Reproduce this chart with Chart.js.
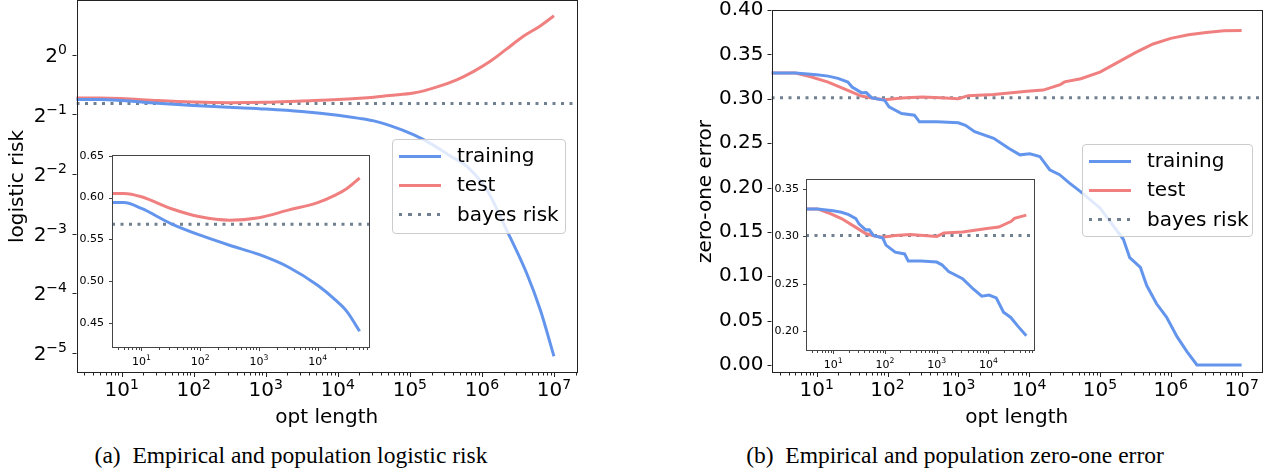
<!DOCTYPE html>
<html lang="en">
<head>
<meta charset="UTF-8">
<title>Logistic risk and zero-one error against opt length</title>
<script src="https://cdn.jsdelivr.net/npm/chart.js"></script>
<style>
    body {
        margin: 0;
        width: 1267px;
        height: 476px;
        position: relative;
        overflow: hidden;
        background: #fff;
        font-family: "DejaVu Sans", sans-serif;
    }
    canvas { position: absolute; }
    .legend {
        position: absolute;
        box-sizing: border-box;
        background: rgba(255, 255, 255, 0.8);
        border: 1px solid #cccccc;
        border-radius: 4px;
    }
    .legend .handle { position: absolute; left: 6px; width: 42px; height: 3px; }
    .legend .text { position: absolute; left: 64px; font-size: 20px; line-height: 24px; color: #000; white-space: nowrap; }
    .caption {
        position: absolute;
        top: 444px;
        font-family: "Liberation Serif", serif;
        font-size: 23.5px;
        line-height: 23.5px;
        white-space: nowrap;
        transform: translateX(-50%);
    }
</style>
</head>
<body>
    <canvas id="riskChart" width="600" height="455" style="left:0px; top:-15px"></canvas>
    <canvas id="riskInset" width="330" height="235" style="left:60px; top:140px"></canvas>
    <div class="legend" id="riskLegend" style="left:392px; top:139px; width:174px; height:95px"></div>

    <canvas id="errChart" width="627" height="450" style="left:640px; top:-10px"></canvas>
    <canvas id="errInset" width="290" height="215" style="left:760px; top:164px"></canvas>
    <div class="legend" id="errLegend" style="left:1082px; top:144px; width:171px; height:93px"></div>

    <div class="caption" style="left:291px">(a)&nbsp; Empirical and population logistic risk</div>
    <div class="caption" style="left:955px">(b)&nbsp; Empirical and population zero-one error</div>

    <script>
        // (a) logistic risk
        const riskTrainSteps = [2.3, 5, 10, 31.6, 100, 316, 1000, 3160, 1e4, 2e4, 3.16e4, 5.2e4,
                                1.12e5, 2.09e5, 3.55e5, 6.17e5, 1.17e6, 2.19e6, 4.17e6, 6.46e6, 1e7];
        const riskTrain = [0.594, 0.594, 0.587, 0.569, 0.555, 0.543, 0.532, 0.517, 0.495, 0.4775, 0.4636, 0.44,
                           0.395, 0.351, 0.31, 0.273, 0.208, 0.131, 0.079, 0.0515, 0.030];
        const riskTestSteps = [2.3, 5, 10, 31.6, 100, 316, 1000, 3160, 1e4, 2e4, 3.16e4, 5.2e4,
                               1.12e5, 2.34e5, 4.47e5, 7.6e5, 1.29e6, 2.19e6, 3.72e6, 6.46e6, 1e7];
        const riskTest = [0.605, 0.605, 0.601, 0.587, 0.577, 0.573, 0.576, 0.585, 0.594, 0.603, 0.611, 0.6235,
                          0.641, 0.687, 0.748, 0.823, 0.925, 1.068, 1.237, 1.40, 1.574];
        const riskBayes = 0.568;
        const riskTicks = [1 / 32, 1 / 16, 1 / 8, 1 / 4, 1 / 2, 1];
        const riskInsetTicks = [0.45, 0.50, 0.55, 0.60, 0.65];

        // (b) zero-one error
        const errTrainSteps = [2.3, 5, 10, 14.5, 20, 27.5, 31.6, 42.7, 50, 60, 91, 105, 158, 240, 282, 500,
                               1000, 1260, 1700, 3160, 5130, 7410, 10230, 14130, 19500, 26900, 37150, 53700, 72400,
                               1e5, 1.38e5, 2.14e5, 2.63e5, 3.72e5, 4.57e5, 6.3e5, 8.7e5, 1.23e6, 1.7e6, 2.34e6, 1e7];
        const errTrain = [0.329, 0.329, 0.327, 0.3255, 0.323, 0.3188, 0.3132, 0.3069, 0.307, 0.301, 0.2983, 0.2908,
                          0.2834, 0.2815, 0.274, 0.274, 0.2729, 0.270, 0.2629, 0.2554, 0.2442, 0.2368, 0.238, 0.235,
                          0.220, 0.2144, 0.205, 0.195, 0.1864, 0.177, 0.162, 0.1417, 0.121, 0.110, 0.0895, 0.069,
                          0.054, 0.0317, 0.0149, 0.0, 0.0];
        const errTestSteps = [2.3, 5, 8, 14.5, 27.5, 42.7, 63, 91, 158, 310, 560, 1000, 1380, 3160, 9330, 15800,
                              27500, 31600, 53700, 1e5, 1.78e5, 3.16e5, 5.62e5, 1e6, 1.78e6, 3.16e6, 5.62e6, 1e7];
        const errTest = [0.329, 0.329, 0.325, 0.3188, 0.3095, 0.303, 0.3005, 0.299, 0.3009, 0.302, 0.301, 0.300,
                         0.3035, 0.3047, 0.3084, 0.3098, 0.316, 0.319, 0.3225, 0.330, 0.341, 0.352, 0.3617, 0.368,
                         0.372, 0.3747, 0.3766, 0.377];
        const errBayes = 0.301;
        const errTicks = [0, 0.05, 0.10, 0.15, 0.20, 0.25, 0.30, 0.35, 0.40];
        const errInsetTicks = [0.20, 0.25, 0.30, 0.35];

        const optTicks = [10, 100, 1000, 1e4, 1e5, 1e6, 1e7];
        const insetOptTicks = [10, 100, 1000, 1e4];
        const insetEnd = 5.4e4;

        const BLUE = '#6495ed', RED = '#f08080', SLATE = '#708090';

        const expText = n => (n < 0 ? '\u2212' + (-n) : String(n));

        // "base^exp" label: base at full size, exponent smaller and raised
        function drawPower(ctx, base, exp, x, y, s, align) {
            ctx.font = s.size + 'px "DejaVu Sans"';
            const wb = ctx.measureText(base).width;
            ctx.font = s.sup + 'px "DejaVu Sans"';
            const we = ctx.measureText(exp).width;
            const left = align === 'center' ? x - (wb + we) / 2 : x - wb - we;
            ctx.font = s.size + 'px "DejaVu Sans"';
            ctx.fillText(base, left, y);
            ctx.font = s.sup + 'px "DejaVu Sans"';
            ctx.fillText(exp, left + wb, y - s.raise);
        }

        // frame around the plot area, outward ticks (minor ones on the log x axis), power-of labels
        const framePlugin = {
            id: 'frame',
            beforeDraw(chart, args, opts) {
                if (!opts.fill) return;
                const a = chart.chartArea;
                chart.ctx.save();
                chart.ctx.fillStyle = '#fff';
                chart.ctx.fillRect(a.left, a.top, a.right - a.left, a.bottom - a.top);
                chart.ctx.restore();
            },
            afterDraw(chart, args, opts) {
                const ctx = chart.ctx, a = chart.chartArea;
                const xs = chart.scales.x, ys = chart.scales.y;
                ctx.save();
                ctx.strokeStyle = opts.color;
                ctx.lineWidth = 1;
                ctx.strokeRect(Math.round(a.left) + 0.5, Math.round(a.top) + 0.5,
                               Math.round(a.right - a.left) - 1, Math.round(a.bottom - a.top) - 1);
                ctx.beginPath();
                for (let e = 0; e <= 8; e++) {
                    for (let d = 1; d <= 9; d++) {
                        const v = d * Math.pow(10, e);
                        if (v <= xs.min || v >= xs.max) continue;
                        const px = Math.round(xs.getPixelForValue(v)) + 0.5;
                        ctx.moveTo(px, a.bottom);
                        ctx.lineTo(px, a.bottom + (d === 1 ? opts.major : opts.minor));
                    }
                }
                ys.ticks.forEach(t => {
                    const py = Math.round(ys.getPixelForValue(t.value)) + 0.5;
                    ctx.moveTo(a.left, py);
                    ctx.lineTo(a.left - opts.major, py);
                });
                ctx.stroke();

                ctx.fillStyle = '#000';
                ctx.textBaseline = 'alphabetic';
                ctx.textAlign = 'left';
                const xp = opts.xPow;
                xs.ticks.forEach(t => {
                    drawPower(ctx, '10', expText(Math.round(Math.log10(t.value))),
                              xs.getPixelForValue(t.value), a.bottom + xp.offset, xp, 'center');
                });
                const yp = opts.yPow;
                if (yp.size) {
                    ys.ticks.forEach(t => {
                        drawPower(ctx, '2', expText(Math.round(Math.log2(t.value))),
                                  a.left - yp.pad, ys.getPixelForValue(t.value) + yp.size * 0.3645, yp, 'right');
                    });
                }
                ctx.restore();
            }
        };

        function makeChart(id, p) {
            const font = { family: 'DejaVu Sans', size: p.fontSize };
            const limit = p.inset ? insetEnd : Infinity;
            const datasets = p.series.map(s => ({
                label: s.label,
                data: s.x.map((x, i) => ({ x: x, y: s.y[i] })).filter(pt => pt.x <= limit),
                borderColor: s.color,
                borderWidth: 3,
                borderDash: [],
                pointRadius: 0,
                fill: false,
                tension: 0,
                cubicInterpolationMode: p.smooth ? 'monotone' : 'default'
            }));
            datasets.push({
                label: 'bayes risk',
                data: [{ x: p.xMin, y: p.bayes }, { x: p.xMax, y: p.bayes }],
                borderColor: SLATE,
                borderWidth: 3,
                borderDash: [3, 5.5],
                pointRadius: 0,
                fill: false
            });
            const xPow = p.inset ? { size: 11, sup: 7.7, raise: 4.5, offset: 16.7 }
                                 : { size: 20, sup: 14, raise: 7.5, offset: 23 };
            const yPow = p.yPower ? { size: 20, sup: 14, raise: 8, pad: 9.5 } : {};
            return new Chart(document.getElementById(id), {
                type: 'line',
                data: { datasets: datasets },
                plugins: [framePlugin],
                options: {
                    responsive: false,
                    animation: false,
                    layout: { padding: p.padding },
                    plugins: {
                        legend: { display: false },
                        tooltip: { enabled: false },
                        frame: {
                            color: p.inset ? '#444' : '#222', major: p.inset ? 3 : 4, minor: p.inset ? 2 : 2.5,
                            fill: p.inset, xPow: xPow, yPow: yPow
                        }
                    },
                    scales: {
                        x: {
                            type: 'logarithmic',
                            min: p.xMin,
                            max: p.xMax,
                            afterBuildTicks: s => { s.ticks = p.xTicks.map(v => ({ value: v })); },
                            afterFit: s => { s.height = p.xHeight; },
                            grid: { display: false, drawTicks: false },
                            border: { display: false },
                            ticks: { display: false },
                            title: {
                                display: !!p.xTitle, text: p.xTitle, color: '#000',
                                font: { family: 'DejaVu Sans', size: 20 }, padding: { top: 0, bottom: 10 }
                            }
                        },
                        y: {
                            type: p.yType,
                            min: p.yMin,
                            max: p.yMax,
                            afterBuildTicks: s => { s.ticks = p.yTicks.map(v => ({ value: v })); },
                            afterFit: s => { s.width = p.yWidth; },
                            grid: { display: false, drawTicks: false },
                            border: { display: false },
                            ticks: {
                                display: !p.yPower, padding: p.yPad, color: '#000', font: font,
                                callback: v => v.toFixed(2)
                            },
                            title: {
                                display: !!p.yTitle, text: p.yTitle, color: '#000',
                                font: { family: 'DejaVu Sans', size: 20 }, padding: { top: p.yTitlePad, bottom: 0 }
                            }
                        }
                    }
                }
            });
        }

        function makeLegend(chart, id) {
            const box = document.getElementById(id);
            chart.data.datasets.forEach((ds, i) => {
                const top = 16 + i * 29.3;
                const handle = document.createElement('div');
                handle.className = 'handle';
                handle.style.top = (top - 1.5) + 'px';
                handle.style.background = ds.borderDash.length
                    ? 'repeating-linear-gradient(to right, ' + ds.borderColor + ' 0 3px, transparent 3px 9.5px)'
                    : ds.borderColor;
                const text = document.createElement('div');
                text.className = 'text';
                text.style.top = (top - 13) + 'px';
                text.textContent = ds.label;
                box.appendChild(handle);
                box.appendChild(text);
            });
        }

        const riskSeries = [
            { label: 'training', x: riskTrainSteps, y: riskTrain, color: BLUE },
            { label: 'test', x: riskTestSteps, y: riskTest, color: RED }
        ];
        const errSeries = [
            { label: 'training', x: errTrainSteps, y: errTrain, color: BLUE },
            { label: 'test', x: errTestSteps, y: errTest, color: RED }
        ];

        const riskChart = makeChart('riskChart', {
            series: riskSeries, bayes: riskBayes, smooth: true, inset: false, fontSize: 20,
            padding: { top: 15, right: 23, left: 0, bottom: 0 },
            xMin: 2.36, xMax: 2.09e7, xTicks: optTicks, xHeight: 67, xTitle: 'opt length',
            yType: 'logarithmic', yMin: 0.0247, yMax: 1.892, yTicks: riskTicks, yWidth: 76.5, yPad: 9.5,
            yPower: true, yTitle: 'logistic risk', yTitlePad: 6
        });
        makeChart('riskInset', {
            series: riskSeries, bayes: riskBayes, smooth: true, inset: true, fontSize: 11,
            padding: { top: 15, right: 20, left: 0, bottom: 0 },
            xMin: 3.15, xMax: 7.8e4, xTicks: insetOptTicks, xHeight: 27,
            yType: 'linear', yMin: 0.42, yMax: 0.651, yTicks: riskInsetTicks, yWidth: 52, yPad: 8
        });

        const errChart = makeChart('errChart', {
            series: errSeries, bayes: errBayes, smooth: false, inset: false, fontSize: 20,
            padding: { top: 17, right: 5, left: 0, bottom: 0 },
            xMin: 2.3, xMax: 1.94e7, xTicks: optTicks, xHeight: 67, xTitle: 'opt length',
            yType: 'linear', yMin: -0.009, yMax: 0.4, yTicks: errTicks, yWidth: 131.5, yPad: 8,
            yTitle: 'zero-one error', yTitlePad: 54
        });
        makeChart('errInset', {
            series: errSeries, bayes: errBayes, smooth: false, inset: true, fontSize: 11,
            padding: { top: 15, right: 15, left: 0, bottom: 0 },
            xMin: 3.0, xMax: 7.9e4, xTicks: insetOptTicks, xHeight: 28,
            yType: 'linear', yMin: 0.179, yMax: 0.3606, yTicks: errInsetTicks, yWidth: 46, yPad: 7
        });

        makeLegend(riskChart, 'riskLegend');
        makeLegend(errChart, 'errLegend');
    </script>
</body>
</html>
